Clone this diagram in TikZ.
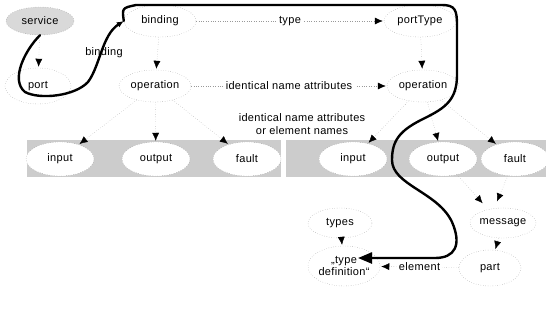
\documentclass[tikz,border=0pt]{standalone}
\usepackage{fontspec}
\setmainfont{Liberation Sans}[LetterSpace=3]
\usetikzlibrary{shapes.geometric,arrows.meta}
\begin{document}
\begin{tikzpicture}[x=1pt,y=-1pt,
  every node/.style={font=\fontsize{11}{12}\selectfont, inner sep=1pt},
  elem/.style={ellipse, draw=black!45, dotted, fill=white, minimum width=72pt, minimum height=32pt, inner sep=0pt},
  inner/.style={elem, minimum width=68pt, minimum height=34pt},
  rel/.style={draw=black!40, dotted, -{Latex[length=8pt,width=7pt,black]}, shorten >=1pt},
  flow/.style={draw=black, line width=2.4pt, line cap=round, line join=round},
  band/.style={fill=black!20, draw=none}
]
\useasboundingbox (0,0) rectangle (546,322);

% shaded groups for the message parts
\fill[band] (27,140) rectangle (281,177);
\fill[band] (286,140) rectangle (546,177);

% top row
\node[elem, fill=black!15, minimum width=68pt, minimum height=28pt] (service) at (40,21) {service};
\node[elem] (binding) at (160,21) {binding};
\node[elem] (porttype) at (420,21) {portType};

% second row
\node[elem, minimum width=66pt, minimum height=36pt] (port) at (38,86) {port};
\node[elem] (opl) at (155,86) {operation};
\node[elem] (opr) at (423,86) {operation};

% message parts
\node[inner] (inl) at (60,159) {input};
\node[inner] (outl) at (156,159) {output};
\node[inner] (fltl) at (247,159) {fault};
\node[inner] (inr) at (353,159) {input};
\node[inner] (outr) at (443,159) {output};
\node[inner] (fltr) at (515,159) {fault};

% lower part
\node[elem, minimum width=66pt, minimum height=30pt] (message) at (503,223) {message};
\node[elem, minimum width=64pt, minimum height=30pt] (types) at (340,223) {types};
\node[elem, minimum width=70pt, minimum height=40pt, align=center, font=\fontsize{11}{11.5}\selectfont] (typedef) at (344,266) {,,type\\definition``};
\node[elem, minimum width=62pt, minimum height=36pt] (part) at (490,268) {part};

% labels
\node (bindlbl) at (104,53) {binding};
\node[align=center, font=\fontsize{11}{12.5}\selectfont] (idlbl) at (302,124) {identical name attributes\\or element names};

% relations
\draw[rel] (service) -- (port);
\draw[rel] (binding) -- (opl);
\draw[rel] (porttype) -- (opr);
\draw[rel] (binding) -- node[fill=white, inner sep=3pt] {type} (porttype);
\draw[rel] (opl) -- node[fill=white, inner sep=3pt] {identical name attributes} (opr);
\draw[rel] (opl) -- (inl);
\draw[rel] (opl) -- (outl);
\draw[rel] (opl) -- (fltl);
\draw[rel] (opr) -- (inr);
\draw[rel] (opr) -- (outr);
\draw[rel] (opr) -- (fltr);
\draw[rel, shorten >=5pt] (outr) -- ([shift={(-17pt,16pt)}]message.center);
\draw[rel, shorten >=5pt] (fltr) -- ([shift={(-8pt,17pt)}]message.center);
\draw[rel] (message) -- (part);
\draw[rel] (types) -- (typedef);
\draw[rel] (part) -- node[fill=white, inner sep=2pt] {element} (typedef);

% reference chain
\draw[flow, -{Latex[length=7pt,width=6pt]}]
  (service.south) .. controls (25,50) and (10,80) .. (25,92)
  .. controls (40,100) and (75,96) .. (88,82)
  .. controls (100,66) and (102,35) .. (binding.west);
\draw[flow, -{Triangle[length=14pt,width=11pt]}]
  (binding.west) .. controls (122,8) .. (136,5) -- (442,5)
  .. controls (455,5) and (457,10) .. (457,25) -- (457,75)
  .. controls (457,100) and (445,108) .. (425,118)
  .. controls (400,130) and (392,140) .. (392,160)
  .. controls (392,185) and (438,192) .. (452,222)
  .. controls (462,245) and (455,258) .. (435,258)
  -- ([shift={(14pt,8pt)}]typedef.center);
\end{tikzpicture}
\end{document}
